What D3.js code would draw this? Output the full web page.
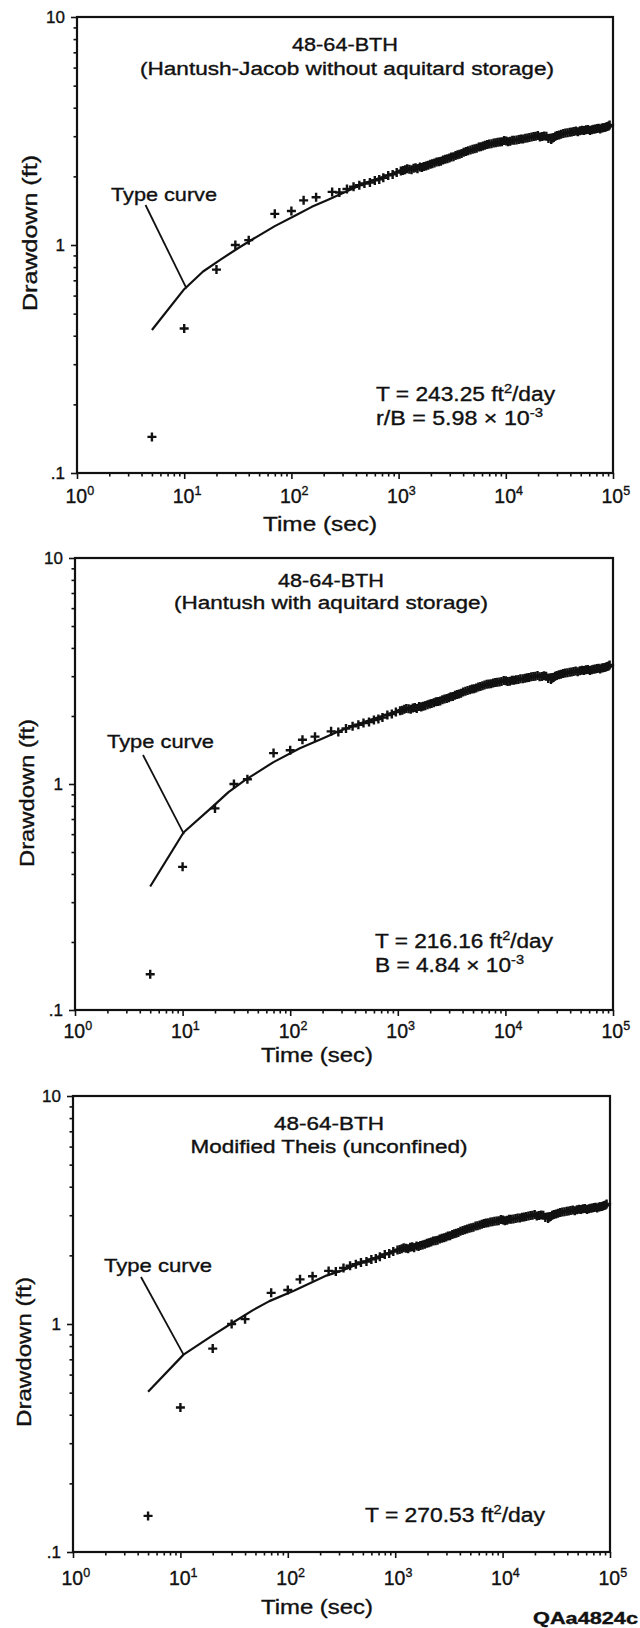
<!DOCTYPE html>
<html><head><meta charset="utf-8">
<script src="https://cdn.jsdelivr.net/npm/d3@7"></script>
<style>
body{margin:0;background:#fff}
svg{display:block}
text{font-family:"Liberation Sans",Arial,Helvetica,sans-serif;fill:#111;stroke:#111;stroke-width:0.35px}
</style>
</head><body>
<svg id="chart" width="640" height="1628"></svg>
<script>
// ---------------- data ----------------
const timeSec = [5,10,20,30,40,70,100,130,170,240,280,330,380,430,480,540,600,660,720,800,880,960,1050,1150,1260,1380,1500,1650,1800,1980,2160,2370,2600,2850,3100,3400,3700,4050,4450,4900,5350,5850,6400,7000,7700,8400,9200,10100,11000,12000,13200,14500,15900,17400,19000,20800,22800,25000,26500,28000,30000,32800,36000,39500,43000,47000,51500,56000,61000,66000,71000,76000,81000,86000,91000];
const drawdownFt = [0.144,0.43,0.78,1.00,1.05,1.37,1.41,1.57,1.62,1.71,1.70,1.76,1.80,1.83,1.86,1.88,1.92,1.94,1.97,2.02,2.04,2.08,2.11,2.14,2.15,2.17,2.16,2.19,2.22,2.26,2.29,2.32,2.36,2.39,2.43,2.47,2.50,2.55,2.59,2.63,2.66,2.70,2.74,2.77,2.80,2.82,2.84,2.86,2.85,2.88,2.90,2.92,2.95,2.98,3.00,2.98,3.01,2.93,2.90,2.96,3.02,3.06,3.10,3.12,3.15,3.14,3.19,3.20,3.18,3.22,3.24,3.23,3.27,3.29,3.33];
// additional late-time readings (dense logging)
const timeSecLate = [1100,1200,1320,1440,1580,1720,1890,2060,2260,2480,2720,2980,3250,3550,3870,4250,4680,5120,5600,6120,6700,7350,8050,8800,9650,10500,11500,12600,13800,15200,16600,18200,19900,21800,23900,27200,29000,31400,34400,37700,41200,45000,49200,53700,58500,63500,68500,73500,78500,83500,88500,93000];
const drawdownFtLate = [2.12,2.16,2.14,2.18,2.20,2.21,2.24,2.27,2.31,2.33,2.38,2.41,2.44,2.49,2.52,2.57,2.61,2.64,2.69,2.72,2.76,2.78,2.81,2.83,2.87,2.84,2.88,2.89,2.92,2.94,2.96,2.99,3.02,2.99,3.00,2.94,3.00,3.04,3.08,3.11,3.13,3.16,3.17,3.18,3.21,3.20,3.23,3.25,3.26,3.28,3.31,3.36];

const curve1Time = [5,10,15,22,32,45,70,110,155,220,310,500,1000,2000,4000,10000,20000,40000,90000];
const curve1Drawdown = [0.424,0.64,0.765,0.865,0.97,1.07,1.21,1.35,1.47,1.58,1.70,1.88,2.10,2.33,2.58,2.84,3.00,3.13,3.30];
const curve2Time = [5,10.2,18.8,26.7,38,70,123,200,283,500,1000,2000,4000,10000,20000,40000,90000];
const curve2Drawdown = [0.352,0.61,0.79,0.92,1.04,1.25,1.44,1.59,1.71,1.89,2.11,2.33,2.58,2.85,3.00,3.14,3.32];
const curve3Time = [5,10.7,19.8,29.3,47.4,67.4,114,229,326,500,1000,2000,4000,10000,20000,40000,90000];
const curve3Drawdown = [0.505,0.734,0.889,1.00,1.15,1.26,1.40,1.63,1.72,1.87,2.10,2.33,2.58,2.85,3.00,3.14,3.32];

const panelTitles = ["48-64-BTH","48-64-BTH","48-64-BTH"];
const panelSubtitles = ["(Hantush-Jacob without aquitard storage)","(Hantush with aquitard storage)","Modified Theis (unconfined)"];
const curveLabel = "Type curve";
const annotations = [
  [[["T = 243.25 ft",0],["2",1],["/day",0]], [["r/B = 5.98 \u00d7 10",0],["-3",1]]],
  [[["T = 216.16 ft",0],["2",1],["/day",0]], [["B = 4.84 \u00d7 10",0],["-3",1]]],
  [[["T = 270.53 ft",0],["2",1],["/day",0]]]
];
const xTickBase = "10";
const xTickExponents = [0,1,2,3,4,5];
const yTickValues = [10,1,0.1];
const yTickLabels = ["10","1",".1"];
const xAxisTitle = "Time (sec)";
const yAxisTitle = "Drawdown (ft)";
const figureId = "QAa4824c";

const curves = [[curve1Time,curve1Drawdown],[curve2Time,curve2Drawdown],[curve3Time,curve3Drawdown]];
const leaderEnds = [[10.5,0.645],[10.3,0.60],[10.7,0.734]];

// ---------------- layout ----------------
const layouts = [
 {left:77,right:613,top:17,bottom:473, title:{x:345,y:51,w:106}, sub:{x:347,y:75,w:414},
  type:{x:111,y:201,w:106}, leadStart:[145.5,205], ann:[{x:376,y:401,w:179},{x:376,y:425,w:167}],
  xlab:503, tlab:{x:320,y:531,w:114}, ylab:{x:29,y:233,w:156}},
 {left:75,right:613,top:558,bottom:1010, title:{x:331,y:587,w:106}, sub:{x:331,y:609,w:314},
  type:{x:107,y:748,w:107}, leadStart:[143,755], ann:[{x:375,y:948,w:178},{x:375,y:972,w:149}],
  xlab:1038, tlab:{x:317,y:1062,w:112}, ylab:{x:26.5,y:793,w:148}},
 {left:73,right:610,top:1096,bottom:1552, title:{x:329,y:1129.5,w:110}, sub:{x:329,y:1153,w:277},
  type:{x:104,y:1272,w:108}, leadStart:[141,1277], ann:[{x:365,y:1522,w:180}],
  xlab:1585, tlab:{x:317,y:1614,w:112}, ylab:{x:23.5,y:1352,w:150}}
];

const svg = d3.select("#chart");
const ink = "#111";

function decadeMinors(lo, hi){ // minor tick values 2..9 per decade
  const out=[];
  for(let e=lo;e<hi;e++){ for(let m=2;m<=9;m++) out.push(m*Math.pow(10,e)); }
  return out;
}

const points = timeSec.map((t,k)=>[t,drawdownFt[k]])
  .concat(timeSecLate.map((t,k)=>[t,drawdownFtLate[k]]));

layouts.forEach((L,i)=>{
  const g = svg.append("g");
  const x = d3.scaleLog().domain([1,1e5]).range([L.left,L.right]);
  const y = d3.scaleLog().domain([0.1,10]).range([L.bottom,L.top]);

  const styleAxis = sel => { sel.select(".domain").remove(); sel.selectAll("line").attr("stroke",ink).attr("stroke-width",1.6); sel.selectAll("text").remove(); };
  g.append("g").attr("transform",`translate(0,${L.bottom})`)
    .call(d3.axisBottom(x).tickValues(decadeMinors(0,5)).tickSize(3.5).tickFormat(()=>"")).call(styleAxis);
  g.append("g").attr("transform",`translate(0,${L.bottom})`)
    .call(d3.axisBottom(x).tickValues(xTickExponents.map(e=>Math.pow(10,e))).tickSize(6).tickFormat(()=>"")).call(styleAxis);
  g.append("g").attr("transform",`translate(${L.left},0)`)
    .call(d3.axisLeft(y).tickValues(decadeMinors(-1,1)).tickSize(3.5).tickFormat(()=>"")).call(styleAxis);
  g.append("g").attr("transform",`translate(${L.left},0)`)
    .call(d3.axisLeft(y).tickValues(yTickValues).tickSize(6).tickFormat(()=>"")).call(styleAxis);

  g.append("rect").attr("x",L.left).attr("y",L.top).attr("width",L.right-L.left).attr("height",L.bottom-L.top)
    .attr("fill","none").attr("stroke",ink).attr("stroke-width",2.2);

  xTickExponents.forEach(e=>{
    const t = g.append("text").attr("x",x(Math.pow(10,e))-11.5).attr("y",L.xlab).attr("font-size",19.5);
    t.append("tspan").text(xTickBase);
    t.append("tspan").attr("dy",-8).attr("font-size",12.5).text(String(e));
  });
  yTickValues.forEach((v,k)=>{
    g.append("text").attr("x",L.left-12).attr("y",y(v)).attr("text-anchor","end")
      .attr("dominant-baseline","central").attr("font-size",17).text(yTickLabels[k]);
  });
  g.append("text").attr("x",L.tlab.x).attr("y",L.tlab.y).attr("text-anchor","middle").attr("font-size",21)
    .attr("textLength",L.tlab.w).attr("lengthAdjust","spacingAndGlyphs").text(xAxisTitle);
  g.append("text").attr("transform",`translate(${L.ylab.x},${L.ylab.y}) rotate(-90)`).attr("text-anchor","middle")
    .attr("dominant-baseline","central").attr("font-size",20.5)
    .attr("textLength",L.ylab.w).attr("lengthAdjust","spacingAndGlyphs").text(yAxisTitle);

  g.append("text").attr("x",L.title.x).attr("y",L.title.y).attr("text-anchor","middle").attr("font-size",17.5)
    .attr("textLength",L.title.w).attr("lengthAdjust","spacingAndGlyphs").text(panelTitles[i]);
  g.append("text").attr("x",L.sub.x).attr("y",L.sub.y).attr("text-anchor","middle").attr("font-size",18)
    .attr("textLength",L.sub.w).attr("lengthAdjust","spacingAndGlyphs").text(panelSubtitles[i]);

  annotations[i].forEach((segs,k)=>{
    const A = L.ann[k];
    const t = g.append("text").attr("x",A.x).attr("y",A.y).attr("font-size",19.5)
      .attr("textLength",A.w).attr("lengthAdjust","spacingAndGlyphs");
    let raised = false;
    segs.forEach(([s,sup])=>{
      const ts = t.append("tspan").text(s);
      if(sup && !raised){ ts.attr("dy",-8).attr("font-size",12.5); raised=true; }
      else if(!sup && raised){ ts.attr("dy",8); raised=false; }
    });
  });

  const [ct,cd] = curves[i];
  const line = d3.line().x(d=>x(d[0])).y(d=>y(d[1]));
  g.append("path").datum(ct.map((t,k)=>[t,cd[k]])).attr("d",line)
    .attr("fill","none").attr("stroke",ink).attr("stroke-width",2.2).attr("stroke-linejoin","round");

  g.append("text").attr("x",L.type.x).attr("y",L.type.y).attr("font-size",19)
    .attr("textLength",L.type.w).attr("lengthAdjust","spacingAndGlyphs").text(curveLabel);
  const le = leaderEnds[i];
  g.append("line").attr("x1",L.leadStart[0]).attr("y1",L.leadStart[1])
    .attr("x2",x(le[0])).attr("y2",y(le[1])).attr("stroke",ink).attr("stroke-width",1.8);

  g.append("g").selectAll("path").data(points).join("path")
    .attr("transform",d=>`translate(${x(d[0])},${y(d[1])})`)
    .attr("d","M-4.5,0H4.5M0,-4.5V4.5").attr("stroke",ink).attr("stroke-width",2.4).attr("fill","none");
});

svg.append("text").attr("x",533).attr("y",1624).attr("font-size",16.5).attr("font-weight","bold")
  .attr("textLength",105).attr("lengthAdjust","spacingAndGlyphs").text(figureId);
</script>
</body></html>
